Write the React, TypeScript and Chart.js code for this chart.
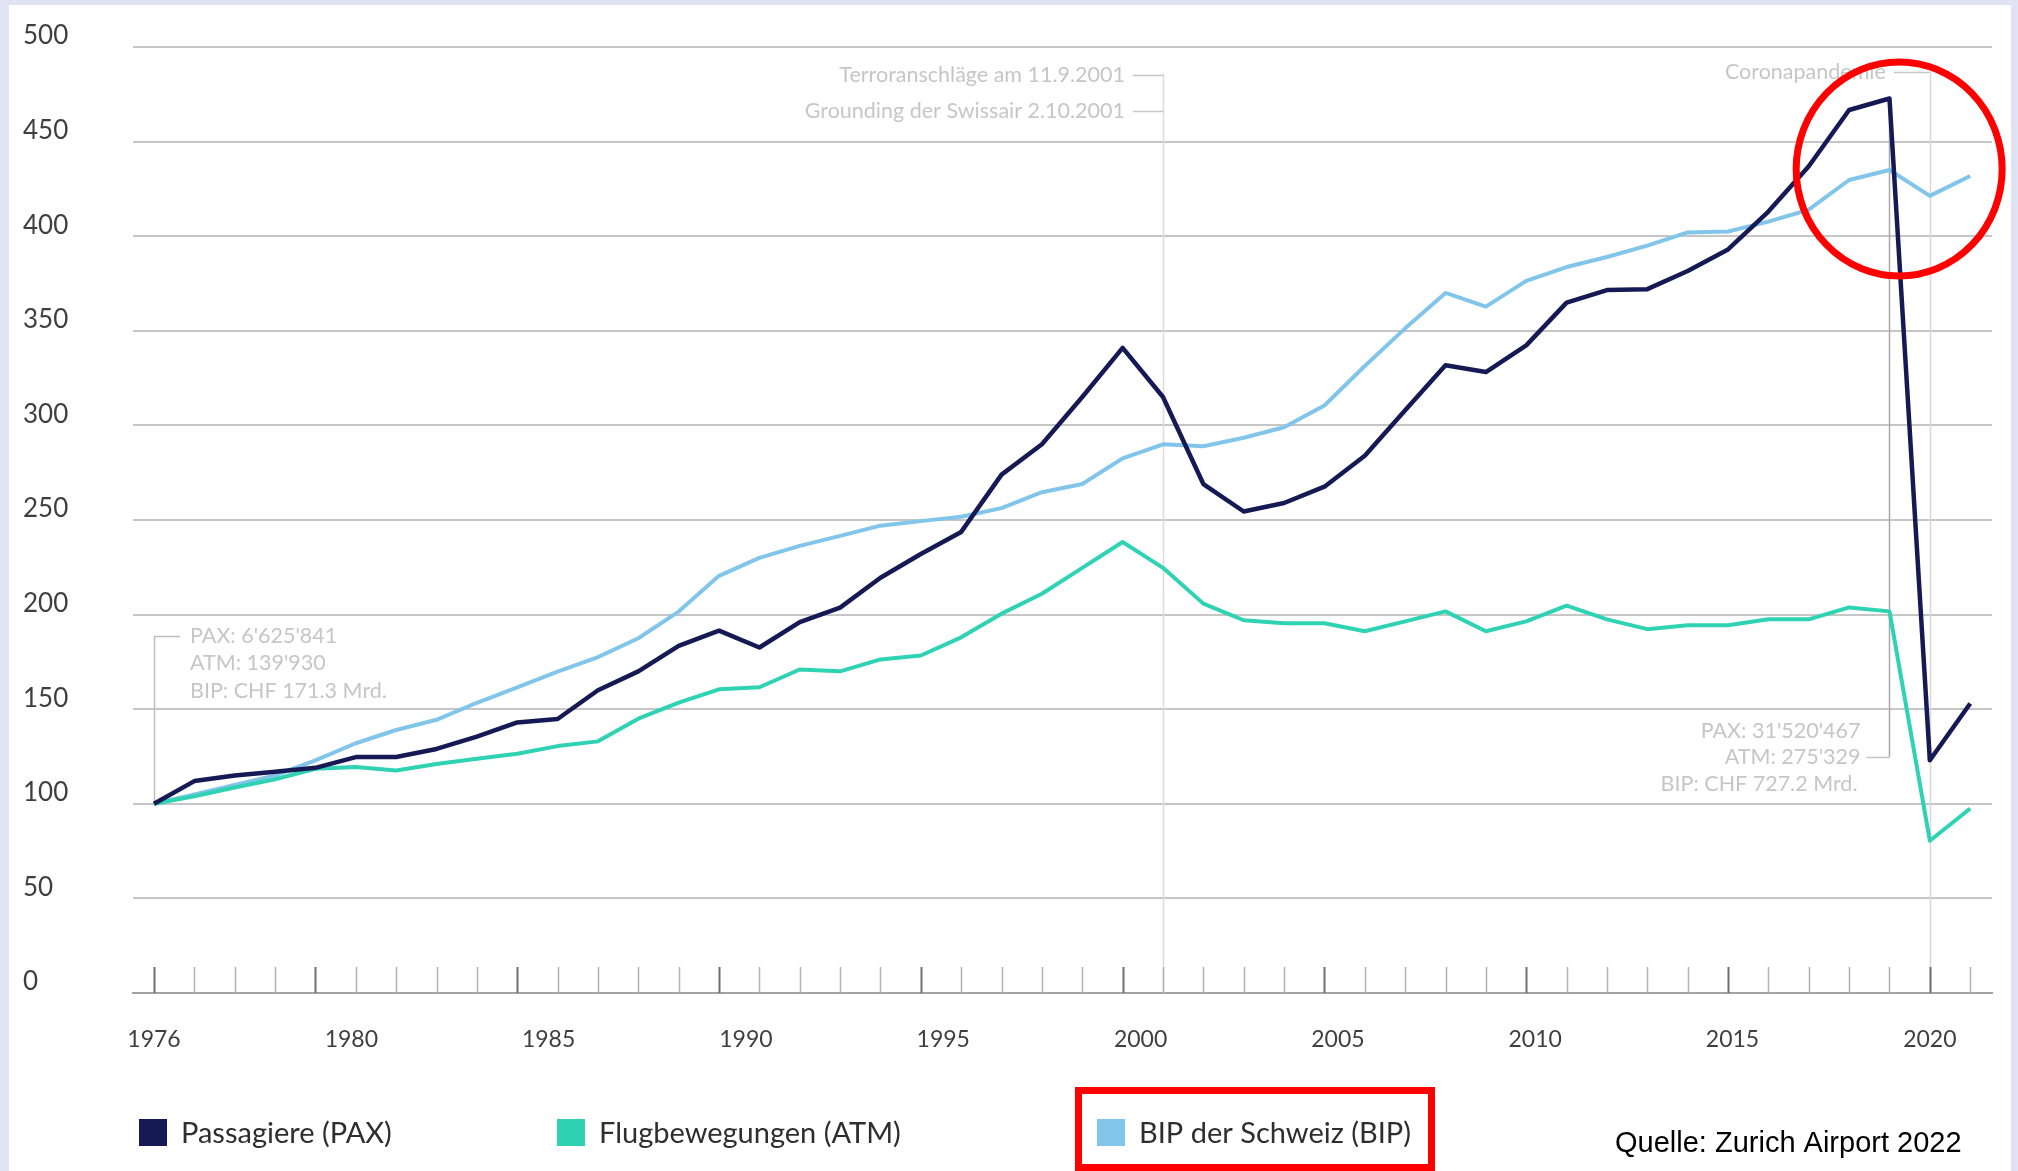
import React, { useEffect, useRef } from "react";
import { Chart, registerables } from "chart.js";

Chart.register(...registerables);

// ---------- data (index, 1976 = 100) ----------
const years = [
  1976, 1977, 1978, 1979, 1980, 1981, 1982, 1983, 1984, 1985,
  1986, 1987, 1988, 1989, 1990, 1991, 1992, 1993, 1994, 1995,
  1996, 1997, 1998, 1999, 2000, 2001, 2002, 2003, 2004, 2005,
  2006, 2007, 2008, 2009, 2010, 2011, 2012, 2013, 2014, 2015,
  2016, 2017, 2018, 2019, 2020, 2021,
];

const paxValues = [
  100, 112, 115, 117, 119, 124.7, 124.7, 129, 135.5, 143,
  144.8, 160, 170, 183.5, 191.5, 182.6, 196, 203.7, 219.5, 232,
  243.7, 274, 290, 315, 341, 315, 269, 254.5, 259, 267.6,
  284, 308, 331.8, 328.2, 342.3, 364.9, 371.5, 372, 381.6, 393,
  413, 437, 466.7, 472.8, 123, 153,
];

const atmValues = [
  100, 104, 108.6, 113, 118.5, 119.4, 117.6, 121, 123.8, 126.5,
  130.5, 133, 145, 153.5, 160.5, 161.6, 171, 170, 176.3, 178.4,
  188, 200.5, 211, 224.7, 238.4, 224.7, 205.8, 197, 195.4, 195.4,
  191.2, 196.4, 201.7, 191.2, 196.4, 204.8, 197.5, 192.3, 194.4, 194.4,
  197.5, 197.5, 203.8, 201.7, 80.5, 97.5,
];

const bipValues = [
  100, 105, 110, 115, 123, 132, 139, 144.4, 153.4, 161.5,
  169.8, 177.5, 187.5, 201.6, 220.5, 230, 236.3, 241.6, 247, 249.4,
  251.7, 256.3, 264.7, 269, 282.6, 290, 289, 293.5, 299, 310.5,
  331.4, 351.3, 370, 362.8, 376.4, 383.7, 389, 395, 402, 402.5,
  407.7, 414, 429.7, 435, 421.3, 431.8,
];

const xTickLabels = ["1976", "1980", "1985", "1990", "1995", "2000", "2005", "2010", "2015", "2020"];
const majorYears = [1976, 1980, 1985, 1990, 1995, 2000, 2005, 2010, 2015, 2020];
const seriesNames = ["Passagiere (PAX)", "Flugbewegungen (ATM)", "BIP der Schweiz (BIP)"];
const seriesColors = ["#161a54", "#2fd3b3", "#82c5ea"];

const startNote = ["PAX: 6'625'841", "ATM: 139'930", "BIP: CHF 171.3 Mrd."];
const endNote = ["PAX: 31'520'467", "ATM: 275'329", "BIP: CHF 727.2 Mrd."];
const eventNotes = ["Terroranschläge am 11.9.2001", "Grounding der Swissair 2.10.2001"];
const coronaNote = "Coronapandemie";
const sourceText = "Quelle: Zurich Airport 2022";

const FONT = "Lato, 'Noto Sans', sans-serif";

const overlayPlugin = {
  id: "overlay",
  beforeDatasetsDraw(chart: any) {
    const { ctx } = chart;
    const xs = chart.scales.x;
    const ys = chart.scales.y;
    const base = ys.getPixelForValue(0);
    ctx.save();
    const vline = (xv: number, y1: number, y2: number, color: string, w: number) => {
      const px = Math.round(xv) + 0.5;
      ctx.strokeStyle = color;
      ctx.lineWidth = w;
      ctx.beginPath();
      ctx.moveTo(px, y1);
      ctx.lineTo(px, y2);
      ctx.stroke();
    };
    // event lines
    vline(xs.getPixelForValue(2001), ys.getPixelForValue(486), base, "#dcdcdc", 1.5);
    vline(xs.getPixelForValue(2020), ys.getPixelForValue(487), base, "#d8d8d8", 1.5);
    vline(xs.getPixelForValue(2019), ys.getPixelForValue(470), ys.getPixelForValue(124.7), "#a9a9a9", 1.5);
    // start bracket
    const x76 = xs.getPixelForValue(1976);
    const yb = ys.getPixelForValue(188.7);
    vline(x76, yb, ys.getPixelForValue(100), "#bdbdbd", 1.5);
    ctx.strokeStyle = "#bdbdbd";
    ctx.lineWidth = 1.5;
    ctx.beginPath();
    ctx.moveTo(x76, Math.round(yb) + 0.5);
    ctx.lineTo(x76 + 26, Math.round(yb) + 0.5);
    ctx.stroke();
    // year ticks
    years.forEach((yr) => {
      const major = majorYears.includes(yr);
      vline(xs.getPixelForValue(yr), base - 26, base, major ? "#6f6f6f" : "#b3b3b3", major ? 2 : 1.5);
    });
    ctx.restore();
  },
  afterDatasetsDraw(chart: any) {
    const { ctx } = chart;
    const xs = chart.scales.x;
    const ys = chart.scales.y;
    ctx.save();
    ctx.fillStyle = "#c6c6c6";
    ctx.strokeStyle = "#c6c6c6";
    ctx.lineWidth = 1.5;
    ctx.font = `21.5px ${FONT}`;
    ctx.textBaseline = "middle";
    const dash = (x1: number, x2: number, y: number) => {
      ctx.beginPath();
      ctx.moveTo(x1, Math.round(y) + 0.5);
      ctx.lineTo(x2, Math.round(y) + 0.5);
      ctx.stroke();
    };
    // 2001 events
    const x01 = xs.getPixelForValue(2001);
    ctx.textAlign = "right";
    const ev1 = ys.getPixelForValue(485);
    const ev2 = ys.getPixelForValue(466);
    ctx.fillText(eventNotes[0], x01 - 38, ev1);
    ctx.fillText(eventNotes[1], x01 - 38, ev2);
    dash(x01 - 30, x01, ev1);
    dash(x01 - 30, x01, ev2);
    // corona
    const x20 = xs.getPixelForValue(2020);
    const cy = ys.getPixelForValue(487);
    ctx.fillText(coronaNote, x20 - 44, cy);
    dash(x20 - 36, x20, cy);
    // start note
    ctx.textAlign = "left";
    const x76 = xs.getPixelForValue(1976);
    const s0 = ys.getPixelForValue(188.7);
    startNote.forEach((t, i) => ctx.fillText(t, x76 + 36, s0 + i * 27.5));
    // end note
    ctx.textAlign = "right";
    const x19 = xs.getPixelForValue(2019);
    const e1 = ys.getPixelForValue(124.7);
    endNote.forEach((t, i) => ctx.fillText(t, x19 - 29 - (i === 2 ? 3 : 0), e1 + (i - 1) * 26.5));
    dash(x19 - 23, x19, e1);

    // legend
    const legendX = [139, 557, 1097];
    const legendY = 1133;
    ctx.textAlign = "left";
    ctx.font = `29px ${FONT}`;
    seriesNames.forEach((name, i) => {
      ctx.fillStyle = seriesColors[i];
      ctx.fillRect(legendX[i], legendY - 14, 28, 27);
      ctx.fillStyle = "#2e2e2e";
      ctx.fillText(name, legendX[i] + 42, legendY + 1);
    });

    // source
    ctx.fillStyle = "#000";
    ctx.font = "29px 'Liberation Sans', Arial, sans-serif";
    ctx.fillText(sourceText, 1615, 1144);

    // red highlight ellipse
    ctx.strokeStyle = "#ff0000";
    ctx.lineWidth = 7;
    ctx.beginPath();
    ctx.ellipse(xs.getPixelForValue(2019.24), ys.getPixelForValue(435.5), 103, 107, 0, 0, Math.PI * 2);
    ctx.stroke();
    // red highlight box around BIP legend
    ctx.strokeRect(1078.5, 1090.5, 353, 77);
    ctx.restore();
  },
};

export default function App() {
  const canvasRef = useRef<HTMLCanvasElement | null>(null);

  useEffect(() => {
    if (!canvasRef.current) return;
    const mk = (vals: number[]) => years.map((yr, i) => ({ x: yr, y: vals[i] }));
    const chart = new Chart(canvasRef.current, {
      type: "line",
      data: {
        datasets: [
          { label: seriesNames[0], data: mk(paxValues), borderColor: seriesColors[0], borderWidth: 4.5 },
          { label: seriesNames[1], data: mk(atmValues), borderColor: seriesColors[1], borderWidth: 4 },
          { label: seriesNames[2], data: mk(bipValues), borderColor: seriesColors[2], borderWidth: 4 },
        ].map((d) => ({ ...d, pointRadius: 0, tension: 0, fill: false, borderJoinStyle: "round" as const })),
      },
      options: {
        responsive: false,
        maintainAspectRatio: false,
        devicePixelRatio: 1,
        animation: false,
        layout: { padding: { left: 23, right: 26, top: 47, bottom: 0 } },
        plugins: { legend: { display: false }, tooltip: { enabled: false } },
        scales: {
          x: {
            type: "linear",
            min: 1975.48,
            max: 2021.54,
            afterBuildTicks: (scale: any) => {
              scale.ticks = xTickLabels.map((_, i) => ({ value: 1976 + (i * 44) / 9 }));
            },
            afterFit: (scale: any) => {
              scale.height = 178;
            },
            ticks: {
              autoSkip: false,
              maxRotation: 0,
              padding: 33,
              color: "#3f3f3f",
              font: { family: FONT, size: 23 },
              callback: (_v: any, i: number) => xTickLabels[i],
            },
            grid: { display: false, drawTicks: false },
            border: { display: true, color: "#a3a3a3", width: 2 },
          },
          y: {
            min: 0,
            max: 500,
            afterFit: (scale: any) => {
              scale.width = 110;
            },
            ticks: {
              stepSize: 50,
              crossAlign: "far",
              labelOffset: -11,
              padding: 0,
              color: "#3f3f3f",
              font: { family: FONT, size: 26 },
            },
            grid: { color: "#c6c6c6", lineWidth: 2, drawTicks: false },
            border: { display: false },
          },
        },
      },
      plugins: [overlayPlugin],
    });
    return () => chart.destroy();
  }, []);

  return (
    <div style={{ position: "fixed", left: 0, top: 0, width: 2018, height: 1171, background: "#dfe3f4", overflow: "hidden" }}>
      <div style={{ position: "absolute", left: 9, top: 5, width: 2002, height: 1166, background: "#ffffff" }} />
      <canvas ref={canvasRef} width={2018} height={1171} style={{ position: "absolute", left: 0, top: 0, width: 2018, height: 1171 }} />
    </div>
  );
}
